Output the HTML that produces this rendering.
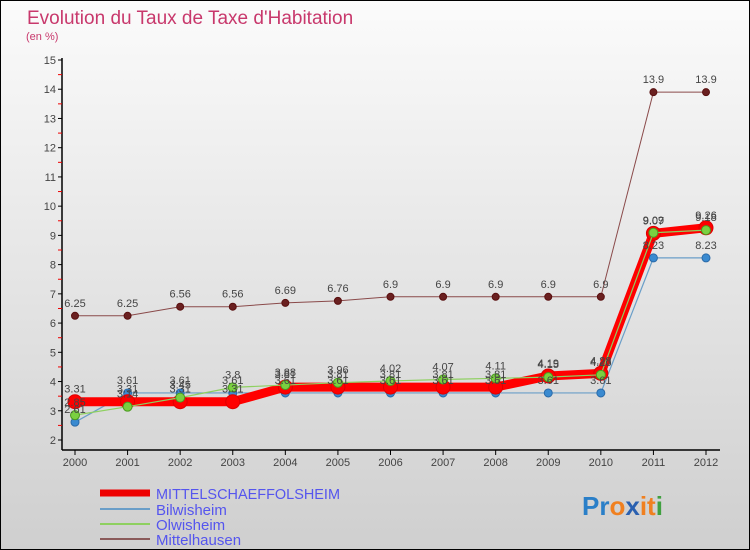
<!DOCTYPE html>
<html><head><meta charset="utf-8"><style>
body{margin:0;width:750px;height:550px;overflow:hidden}
svg{display:block;font-family:"Liberation Sans",sans-serif}
</style></head><body>
<svg width="750" height="550">
<defs><linearGradient id="bg" x1="0" y1="0" x2="0" y2="1"><stop offset="0" stop-color="#fbfbfb"/><stop offset="1" stop-color="#cfcfcf"/></linearGradient></defs>
<rect x="0.5" y="0.5" width="749" height="549" fill="url(#bg)" stroke="#000"/>
<text x="27" y="24" font-size="19" fill="#c8386c">Evolution du Taux de Taxe d'Habitation</text>
<text x="26" y="40" font-size="11" fill="#c8386c">(en %)</text>
<g id="axes"></g><g id="series"></g><g id="labels"></g>
<g font-size="15" fill="#5555ee">
<line x1="100" y1="493" x2="150" y2="493" stroke="#e00" stroke-width="7"/>
<text x="156" y="499" textLength="184" lengthAdjust="spacingAndGlyphs">MITTELSCHAEFFOLSHEIM</text>
<line x1="100" y1="509" x2="150" y2="509" stroke="#6a9ec8" stroke-width="2"/>
<text x="156" y="515">Bilwisheim</text>
<line x1="100" y1="524" x2="150" y2="524" stroke="#8ed060" stroke-width="2"/>
<text x="156" y="530">Olwisheim</text>
<line x1="100" y1="539" x2="150" y2="539" stroke="#8a5a5a" stroke-width="2"/>
<text x="156" y="545">Mittelhausen</text>
</g>
<text x="582" y="515" font-size="26" font-weight="bold"><tspan fill="#2a7fc8">Pr</tspan><tspan fill="#f08020">o</tspan><tspan fill="#2a60b0">x</tspan><tspan fill="#f08020">it</tspan><tspan fill="#40a040">i</tspan></text>
</svg>
<script>
const years=[2000,2001,2002,2003,2004,2005,2006,2007,2008,2009,2010,2011,2012];
const yTicks=[2,3,4,5,6,7,8,9,10,11,12,13,14,15];
const mittelschaeffolsheim=[3.31,3.31,3.31,3.31,3.81,3.81,3.81,3.81,3.81,4.19,4.28,9.07,9.26];
const bilwisheim=[2.61,3.61,3.61,3.61,3.61,3.61,3.61,3.61,3.61,3.61,3.61,8.23,8.23];
const olwisheim=[2.85,3.14,3.45,3.8,3.88,3.96,4.02,4.07,4.11,4.15,4.23,9.09,9.18];
const mittelhausen=[6.25,6.25,6.56,6.56,6.69,6.76,6.9,6.9,6.9,6.9,6.9,13.9,13.9];
const NS="http://www.w3.org/2000/svg";
const xS=i=>75+i*(706-75)/(years.length-1);
const yS=v=>440-(v-2)*(380/13);
function mk(tag,attrs,parent,text){const e=document.createElementNS(NS,tag);for(const k in attrs)e.setAttribute(k,attrs[k]);if(text!==undefined)e.textContent=text;parent.appendChild(e);return e;}
const ax=document.getElementById('axes');
let e=mk('line',{x1:62,y1:58,x2:62,y2:450,stroke:'#000','stroke-width':1.5},ax);


e=mk('line',{x1:62,y1:450,x2:720,y2:450,stroke:'#000','stroke-width':1.5},ax);


yTicks.forEach(t=>{const y=yS(t);
 mk('line',{x1:58,y1:y,x2:62,y2:y,stroke:'#000'},ax);
 if(t<15)mk('line',{x1:58,y1:y-14.6,x2:62,y2:y-14.6,stroke:'#e00'},ax);
 const l=mk('text',{x:56,y:y+4,'font-size':11,'text-anchor':'end',fill:'#444'},ax,t);
 
 
});
years.forEach((yr,i)=>{const x=xS(i);
 mk('line',{x1:x,y1:450,x2:x,y2:455,stroke:'#000'},ax);
 const l=mk('text',{x:x,y:466,'font-size':11,'text-anchor':'middle',fill:'#444'},ax,yr);
 
 
});
const sg=document.getElementById('series'),lg=document.getElementById('labels');
function series(name,data,color,w,r,dot,stroke){
 const pts=data.map((v,i)=>xS(i)+','+yS(v)).join(' ');
 const p=mk('polyline',{points:pts,fill:'none',stroke:color,'stroke-width':w,'stroke-linejoin':'round'},sg);
 
 
 data.forEach((v,i)=>{
  const c=mk('circle',{cx:xS(i),cy:yS(v),r:r,fill:dot,stroke:stroke,'stroke-width':1},sg);
  
  
  const t=mk('text',{x:xS(i),y:yS(v)-9,'font-size':11,'text-anchor':'middle',fill:'#444'},lg,String(v));
  
  
 });
}
series('mittelhausen',mittelhausen,'#8a4a4a',1,3.5,'#6a2020','#5a1010');
series('bilwisheim',bilwisheim,'#6a9ec8',1.2,4,'#3a8ad0','#2a6aa8');
series('mittelschaeffolsheim',mittelschaeffolsheim,'#f00',9,7,'#f00','#d00');
series('olwisheim',olwisheim,'#8ed060',1.2,4.5,'#7ad040','#4a9a20');
</script>
</body></html>
